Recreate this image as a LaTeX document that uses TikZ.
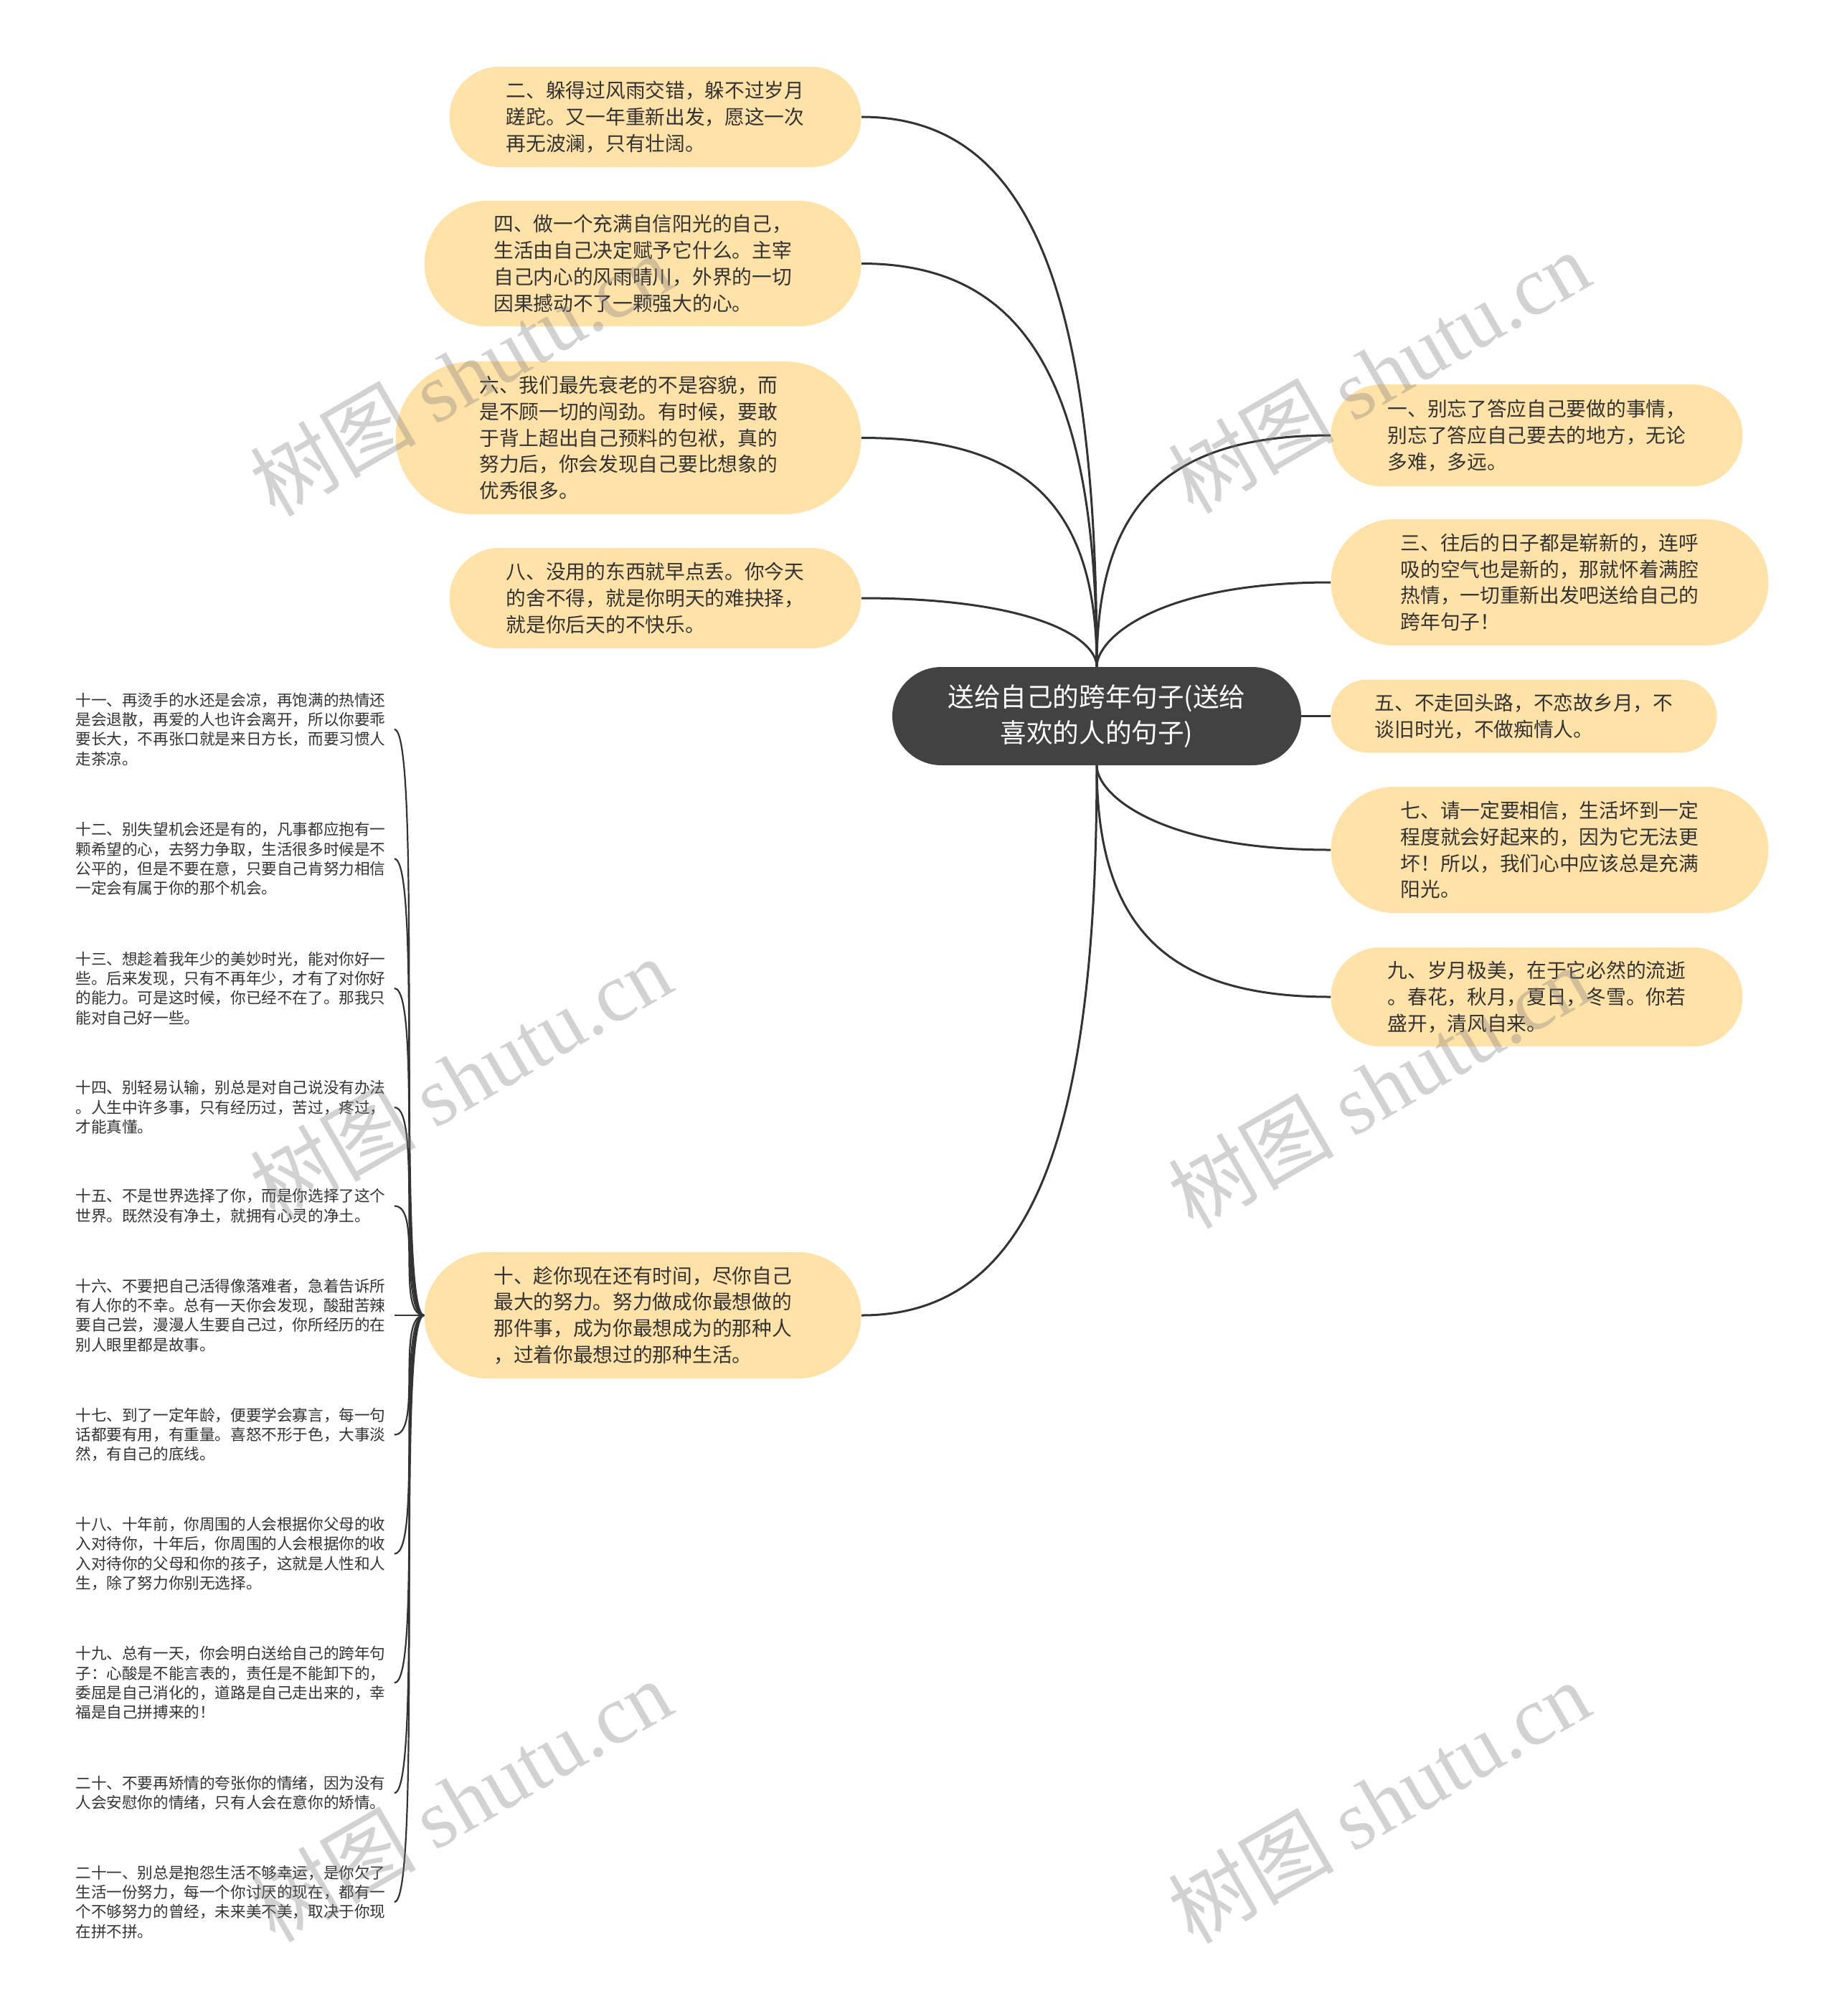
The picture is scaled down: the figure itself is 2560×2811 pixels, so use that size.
\documentclass[tikz,border=0pt]{standalone}
\usepackage{fontspec}
\setmainfont{Noto Sans CJK SC}
\newfontfamily\wmfont{Liberation Serif}
\usetikzlibrary{shapes.misc}
\definecolor{leafyellow}{HTML}{FEE2A8}
\definecolor{rootgray}{HTML}{424242}
\definecolor{inkgray}{HTML}{333333}

\begin{document}
\begin{tikzpicture}[x=0.5pt,y=-0.5pt,
    root/.style={rounded rectangle,fill=rootgray,text=white,align=center,
      inner sep=0pt,minimum width=285pt,minimum height=68.5pt,
      font=\fontsize{18.3}{25}\selectfont},
    leaf/.style={rounded rectangle,fill=leafyellow,text=inkgray,align=left,
      inner sep=0pt,font=\fontsize{13.85}{18.4}\selectfont},
    note/.style={anchor=west,text=inkgray,align=left,inner sep=0pt,
      text width=222pt,font=\fontsize{10.8}{13.7}\selectfont},
    branch/.style={draw=inkgray,line width=1.5pt},
    brace/.style={draw=inkgray,line width=1.1pt},
    watermark/.style={rotate=30,text=gray,text opacity=0.35,
      font=\fontsize{58}{58}\selectfont}]
  \fill[white] (0,0) rectangle (2560,2811);
  \useasboundingbox (0,0) rectangle (2560,2811);

  \node[root] (c) at (1529,998.5) {送给自己的跨年句子(送给\\喜欢的人的句子)};

  % left side
  \node[leaf,minimum width=287pt,minimum height=70pt,anchor=east] (n2) at (1201,163)
    {二、躲得过风雨交错，躲不过岁月\\蹉跎。又一年重新出发，愿这一次\\再无波澜，只有壮阔。};
  \node[leaf,minimum width=304.5pt,minimum height=87.5pt,anchor=east] (n4) at (1201,367.5)
    {四、做一个充满自信阳光的自己，\\生活由自己决定赋予它什么。主宰\\自己内心的风雨晴川，外界的一切\\因果撼动不了一颗强大的心。};
  \node[leaf,minimum width=324.5pt,minimum height=106.5pt,anchor=east] (n6) at (1201,610.5)
    {六、我们最先衰老的不是容貌，而\\是不顾一切的闯劲。有时候，要敢\\于背上超出自己预料的包袱，真的\\努力后，你会发现自己要比想象的\\优秀很多。};
  \node[leaf,minimum width=287pt,minimum height=70pt,anchor=east] (n8) at (1201,834)
    {八、没用的东西就早点丢。你今天\\的舍不得，就是你明天的难抉择，\\就是你后天的不快乐。};
  \node[leaf,minimum width=304.5pt,minimum height=88pt,anchor=east] (n10) at (1201,1834)
    {十、趁你现在还有时间，尽你自己\\最大的努力。努力做成你最想做的\\那件事，成为你最想成为的那种人\\，过着你最想过的那种生活。};

  % right side
  \node[leaf,minimum width=287pt,minimum height=71pt,anchor=west] (n1) at (1855,607)
    {一、别忘了答应自己要做的事情，\\别忘了答应自己要去的地方，无论\\多难，多远。};
  \node[leaf,minimum width=305pt,minimum height=88pt,anchor=west] (n3) at (1855,812)
    {三、往后的日子都是崭新的，连呼\\吸的空气也是新的，那就怀着满腔\\热情，一切重新出发吧送给自己的\\跨年句子！};
  \node[leaf,minimum width=269pt,minimum height=51pt,anchor=west] (n5) at (1855,998.5)
    {五、不走回头路，不恋故乡月，不\\谈旧时光，不做痴情人。};
  \node[leaf,minimum width=305pt,minimum height=88pt,anchor=west] (n7) at (1855,1185)
    {七、请一定要相信，生活坏到一定\\程度就会好起来的，因为它无法更\\坏！所以，我们心中应该总是充满\\阳光。};
  \node[leaf,minimum width=287pt,minimum height=69pt,anchor=west] (n9) at (1855,1390)
    {九、岁月极美，在于它必然的流逝\\。春花，秋月，夏日，冬雪。你若\\盛开，清风自来。};

  \draw[branch] (c.north) .. controls +(0,-537) and +(230,0) .. (n2.east);
  \draw[branch] (c.north) .. controls +(0,-394) and +(230,0) .. (n4.east);
  \draw[branch] (c.north) .. controls +(0,-224) and +(230,0) .. (n6.east);
  \draw[branch] (c.north) .. controls +(0,-40) and +(240,0) .. (n8.east);
  \draw[branch] (c.south) .. controls +(0,537) and +(230,0) .. (n10.east);
  \draw[branch] (c.north) .. controls +(0,-226) and +(-228,0) .. (n1.west);
  \draw[branch] (c.north) .. controls +(0,-40) and +(-240,0) .. (n3.west);
  \draw[branch] (c.east) -- (n5.west);
  \draw[branch] (c.south) .. controls +(0,40) and +(-240,0) .. (n7.west);
  \draw[branch] (c.south) .. controls +(0,226) and +(-228,0) .. (n9.west);

  % notes under 十
  \node[note] (k11) at (105,1017) {十一、再烫手的水还是会凉，再饱满的热情还\\是会退散，再爱的人也许会离开，所以你要乖\\要长大，不再张口就是来日方长，而要习惯人\\走茶凉。};
  \node[note] (k12) at (105,1197.5) {十二、别失望机会还是有的，凡事都应抱有一\\颗希望的心，去努力争取，生活很多时候是不\\公平的，但是不要在意，只要自己肯努力相信\\一定会有属于你的那个机会。};
  \node[note] (k13) at (105,1378) {十三、想趁着我年少的美妙时光，能对你好一\\些。后来发现，只有不再年少，才有了对你好\\的能力。可是这时候，你已经不在了。那我只\\能对自己好一些。};
  \node[note] (k14) at (105,1544) {十四、别轻易认输，别总是对自己说没有办法\\。人生中许多事，只有经历过，苦过，疼过，\\才能真懂。};
  \node[note] (k15) at (105,1681.5) {十五、不是世界选择了你，而是你选择了这个\\世界。既然没有净土，就拥有心灵的净土。};
  \node[note] (k16) at (105,1834) {十六、不要把自己活得像落难者，急着告诉所\\有人你的不幸。总有一天你会发现，酸甜苦辣\\要自己尝，漫漫人生要自己过，你所经历的在\\别人眼里都是故事。};
  \node[note] (k17) at (105,2000.5) {十七、到了一定年龄，便要学会寡言，每一句\\话都要有用，有重量。喜怒不形于色，大事淡\\然，有自己的底线。};
  \node[note] (k18) at (105,2166.5) {十八、十年前，你周围的人会根据你父母的收\\入对待你，十年后，你周围的人会根据你的收\\入对待你的父母和你的孩子，这就是人性和人\\生，除了努力你别无选择。};
  \node[note] (k19) at (105,2346.5) {十九、总有一天，你会明白送给自己的跨年句\\子：心酸是不能言表的，责任是不能卸下的，\\委屈是自己消化的，道路是自己走出来的，幸\\福是自己拼搏来的！};
  \node[note] (k20) at (105,2500) {二十、不要再矫情的夸张你的情绪，因为没有\\人会安慰你的情绪，只有人会在意你的矫情。};
  \node[note] (k21) at (105,2652) {二十一、别总是抱怨生活不够幸运，是你欠了\\生活一份努力，每一个你讨厌的现在，都有一\\个不够努力的曾经，未来美不美，取决于你现\\在拼不拼。};

  \foreach \k in {k11,k12,k13,k14,k15,k16,k17,k18,k19,k20,k21}
    \draw[brace] (n10.west) .. controls +(-40,0) and +(40,0) .. (\k.east);

  % watermarks
  \node[watermark] (wm1) at (642,522) {树图 {\wmfont shutu.cn}};
  \node[watermark] (wm2) at (1922,518) {树图 {\wmfont shutu.cn}};
  \node[watermark] (wm3) at (642,1503) {树图 {\wmfont shutu.cn}};
  \node[watermark] (wm4) at (1922,1515) {树图 {\wmfont shutu.cn}};
  \node[watermark] (wm5) at (642,2510) {树图 {\wmfont shutu.cn}};
  \node[watermark] (wm6) at (1922,2512) {树图 {\wmfont shutu.cn}};
\end{tikzpicture}
\end{document}
